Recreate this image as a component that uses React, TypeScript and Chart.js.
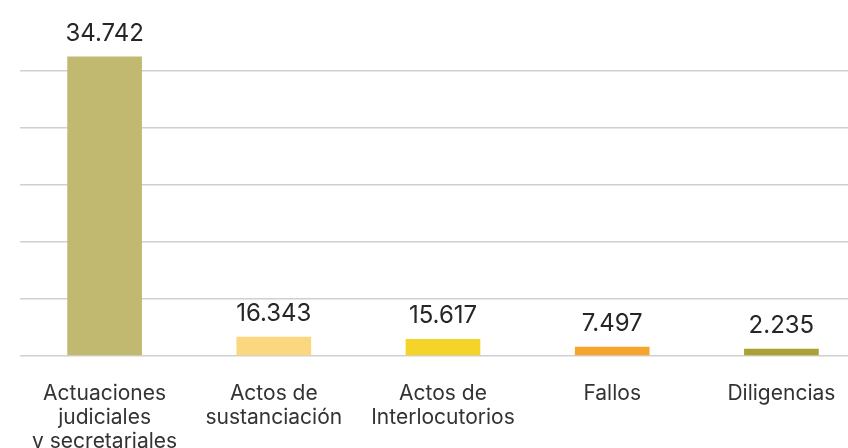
import React, { useEffect, useRef } from "react";
import { Chart, registerables } from "chart.js";

Chart.register(...registerables);

const categories: string[][] = [
  ["Actuaciones", "judiciales", "y secretariales"],
  ["Actos de", "sustanciación"],
  ["Actos de", "Interlocutorios"],
  ["Fallos"],
  ["Diligencias"],
];
// bar heights as drawn (axis units, gridline every 10)
const barHeights: number[] = [52.5, 3.25, 2.85, 1.5, 1.15];
// value labels printed above bars
const valueLabels: string[] = ["34.742", "16.343", "15.617", "7.497", "2.235"];
const barColors: string[] = ["#C1B970", "#FBD87F", "#F6D329", "#F7A42E", "#A9A133"];

const FONT = "Inter, 'DejaVu Sans', sans-serif";

const valueLabelPlugin = {
  id: "valueLabels",
  afterDatasetsDraw(chart: any) {
    const ctx = chart.ctx;
    const meta = chart.getDatasetMeta(0);
    ctx.save();
    ctx.fillStyle = "#262626";
    ctx.font = `24px ${FONT}`;
    ctx.textAlign = "center";
    ctx.textBaseline = "alphabetic";
    meta.data.forEach((bar: any, i: number) => {
      ctx.fillText(valueLabels[i], bar.x, bar.y - 16);
    });
    ctx.restore();
  },
};

export default function App() {
  const ref = useRef<HTMLCanvasElement | null>(null);
  useEffect(() => {
    if (!ref.current) return;
    const chart = new Chart(ref.current, {
      type: "bar",
      data: {
        labels: categories,
        datasets: [
          {
            data: barHeights,
            backgroundColor: barColors,
            barThickness: 74,
            clip: false as any,
          },
        ],
      },
      options: {
        animation: false,
        responsive: false,
        layout: { padding: { left: 20, right: 4, top: 71, bottom: 0 } },
        plugins: { legend: { display: false }, tooltip: { enabled: false } },
        scales: {
          x: {
            grid: { display: false },
            border: { display: false },
            ticks: {
              color: "#333333",
              font: { family: FONT, size: 21, lineHeight: 1.15 },
              padding: 18,
              maxRotation: 0,
              autoSkip: false,
            },
          },
          y: {
            min: 0,
            max: 50,
            ticks: { display: false, stepSize: 10 },
            grid: { color: "#d0d0d0", lineWidth: 1.5, drawTicks: false },
            border: { display: false },
          },
        },
      },
      plugins: [valueLabelPlugin],
    });
    return () => chart.destroy();
  }, []);
  return (
    <div style={{ position: "fixed", left: 0, top: 0, width: 848, height: 448, overflow: "hidden", background: "#fff" }}>
      <canvas ref={ref} width={870} height={472} style={{ display: "block" }} />
    </div>
  );
}
